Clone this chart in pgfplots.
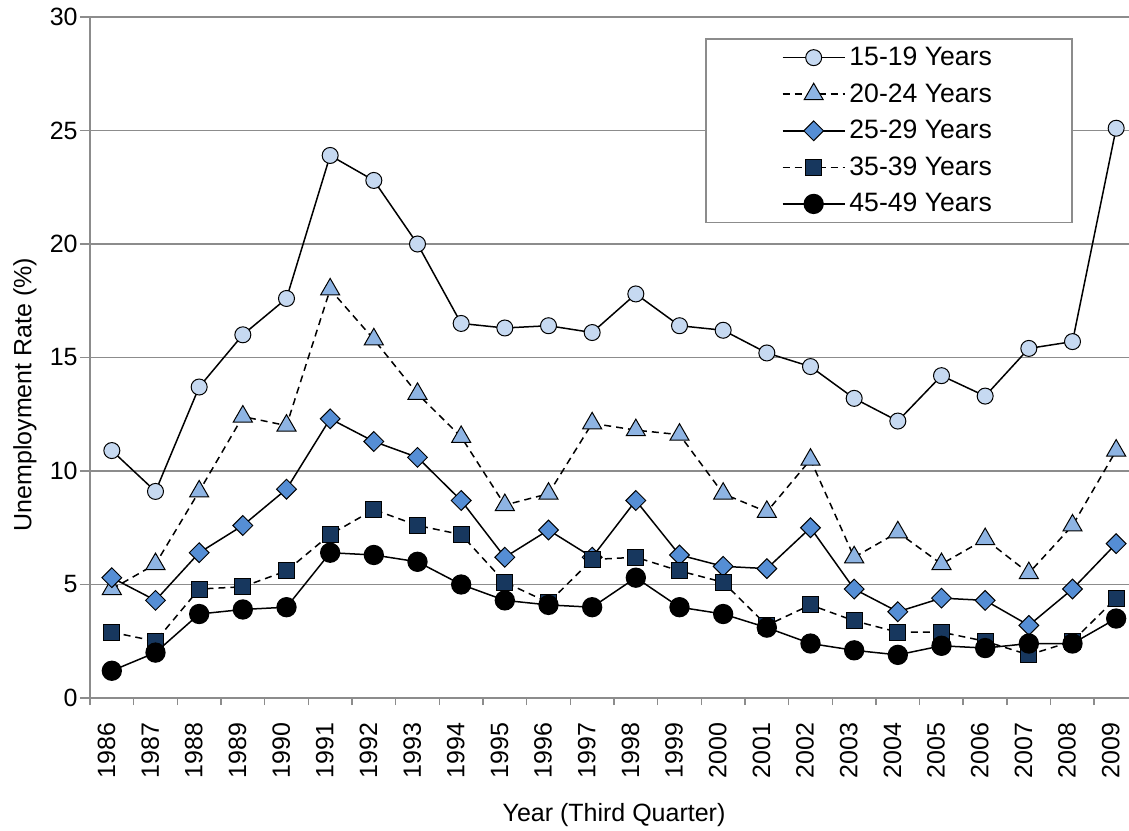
\documentclass[border=0pt]{standalone}
\usepackage{fontspec}
\setmainfont{Liberation Sans}
\usepackage{pgfplots}
\usepackage{pgfplotstable}
\pgfplotsset{compat=1.18}
\definecolor{gridGray}{HTML}{8C8C8C}
\definecolor{fillA}{HTML}{C6D9F1}
\definecolor{fillB}{HTML}{8EB4E3}
\definecolor{fillC}{HTML}{558ED5}
\definecolor{fillD}{HTML}{17375E}

% year, 15-19, 20-24, 25-29, 35-39, 45-49
\pgfplotstableread{
year a b c d e
1986 10.9 4.8 5.3 2.9 1.2
1987 9.1 5.9 4.3 2.5 2.0
1988 13.7 9.1 6.4 4.8 3.7
1989 16.0 12.4 7.6 4.9 3.9
1990 17.6 12.0 9.2 5.6 4.0
1991 23.9 18.0 12.3 7.2 6.4
1992 22.8 15.8 11.3 8.3 6.3
1993 20.0 13.4 10.6 7.6 6.0
1994 16.5 11.5 8.7 7.2 5.0
1995 16.3 8.5 6.2 5.1 4.3
1996 16.4 9.0 7.4 4.2 4.1
1997 16.1 12.1 6.2 6.1 4.0
1998 17.8 11.8 8.7 6.2 5.3
1999 16.4 11.6 6.3 5.6 4.0
2000 16.2 9.0 5.8 5.1 3.7
2001 15.2 8.2 5.7 3.2 3.1
2002 14.6 10.5 7.5 4.1 2.4
2003 13.2 6.2 4.8 3.4 2.1
2004 12.2 7.3 3.8 2.9 1.9
2005 14.2 5.9 4.4 2.9 2.3
2006 13.3 7.0 4.3 2.5 2.2
2007 15.4 5.5 3.2 1.9 2.4
2008 15.7 7.6 4.8 2.5 2.4
2009 25.1 10.9 6.8 4.4 3.5
}\data

\begin{document}
\begin{tikzpicture}
\begin{axis}[
    scale only axis, width=524pt, height=340.5pt,
    xmin=1985.5, xmax=2009.5, ymin=0, ymax=30,
    axis lines*=left, axis line style={gridGray, line width=0.75pt},
    font=\fontsize{12.5}{15}\selectfont,
    /pgf/number format/assume math mode=true,
    ytick={0,5,...,30}, ymajorgrids, grid style={gridGray, line width=0.75pt},
    xtick={1986,...,2009}, minor xtick={1985.5,1986.5,...,2009.5},
    xticklabels={1986,1987,1988,1989,1990,1991,1992,1993,1994,1995,1996,1997,1998,1999,2000,2001,2002,2003,2004,2005,2006,2007,2008,2009},
    tick align=outside, major tick length=5pt, minor tick length=3.5pt,
    tick style={gridGray, line width=0.75pt},
    every major x tick/.append style={draw=none},
    xticklabel style={rotate=90, anchor=mid east, inner sep=0pt, xshift=-7pt, yshift=1pt},
    yticklabel style={anchor=east, inner sep=0pt, xshift=-1pt},
    xlabel={Year (Third Quarter)}, ylabel={Unemployment Rate (\%)},
    label style={font=\fontsize{13}{15}\selectfont},
    every axis x label/.style={at={(axis description cs:0.5,0)}, anchor=center, yshift=-58.5pt},
    every axis y label/.style={at={(axis description cs:0,0.5)}, anchor=center, xshift=-32.5pt, yshift=-18.5pt, rotate=90},
    legend style={at={(axis description cs:0.587,0.969)}, anchor=north west,
      draw=gridGray, line width=0.75pt, fill=white,
      font=\fontsize{13.3}{15}\selectfont, inner xsep=38pt, inner ysep=2pt, row sep=3.5pt,
      /tikz/every even column/.append style={column sep=2pt}},
    legend cell align=left,
    legend image code/.code={\draw[#1, mark repeat=2, mark phase=2] plot coordinates {(0pt,0pt) (15.5pt,0pt) (31pt,0pt)};},
    every axis plot/.append style={line width=0.75pt},
  ]
  \addplot[black, solid, mark=*, mark size=4pt, mark options={fill=fillA, draw=black, line width=0.5pt, solid}]
    table[x=year, y=a] {\data};
  \addplot[black, dash pattern=on 3.5pt off 2.5pt, mark=triangle*, mark size=5.5pt, mark options={fill=fillB, draw=black, line width=0.5pt, solid}]
    table[x=year, y=b] {\data};
  \addplot[black, solid, mark=square*, mark size=3.5pt, mark options={rotate=45, fill=fillC, draw=black, line width=0.5pt, solid}]
    table[x=year, y=c] {\data};
  \addplot[black, dash pattern=on 3.5pt off 2.5pt, mark=square*, mark size=4pt, mark options={fill=fillD, draw=black, line width=0.5pt, solid}]
    table[x=year, y=d] {\data};
  \addplot[black, solid, mark=*, mark size=4.7pt, mark options={fill=black, draw=black, solid}]
    table[x=year, y=e] {\data};
  \legend{15-19 Years, 20-24 Years, 25-29 Years, 35-39 Years, 45-49 Years}
\end{axis}
\pgfresetboundingbox
\path[use as bounding box] (-45pt,-66pt) rectangle (519.5pt,349pt);
\end{tikzpicture}
\end{document}
